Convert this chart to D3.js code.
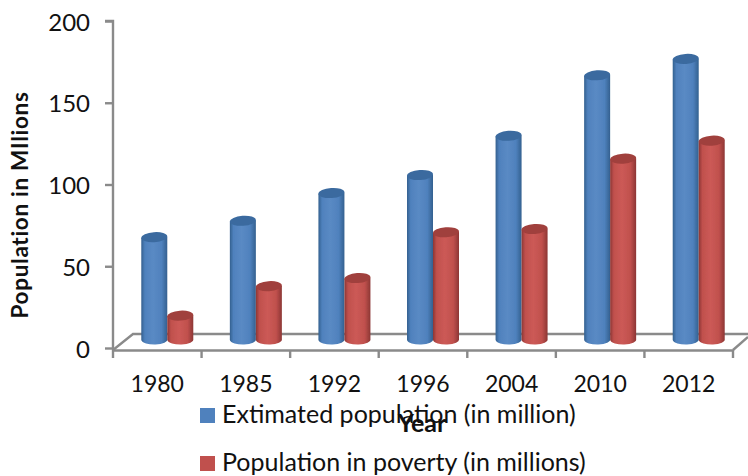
<!DOCTYPE html>
<html><head><meta charset="utf-8">
<script src="https://cdn.jsdelivr.net/npm/d3@7/dist/d3.min.js"></script>
<style>html,body{margin:0;background:#fff}svg{display:block}text{font-family:Lato,"Open Sans",sans-serif;fill:#111}</style>
</head><body><svg id="c" width="748" height="476"></svg>
<script>
const categories=["1980","1985","1992","1996","2004","2010","2012"];
const estimated=[67.5,77.5,94.5,105.5,129.5,166.5,176.5];
const poverty=[19.5,37.5,42.5,70.5,72.5,115.5,126.5];
const yTicks=[0,50,100,150,200];
const seriesNames=["Extimated population (in million)","Population in poverty (in millions)"];
const colors=[
 {id:"gb",dark:"#33608f",mid:"#4f81bd",light:"#5a8ac4",top:"#3a6a9f"},
 {id:"gr",dark:"#8c3634",mid:"#c0504d",light:"#cc5a56",top:"#a03f3c"}];
const axisColor="#8a8a8a";
const svg=d3.select("#c");
const x=d3.scaleBand().domain(categories).range([113,733]);
const y=d3.scaleLinear().domain([0,200]).range([348,21]);
const defs=svg.append("defs");
colors.forEach(c=>{
  const g=defs.append("linearGradient").attr("id",c.id);
  [[0,c.dark],[.14,c.mid],[.45,c.light],[.78,c.mid],[1,c.dark]].forEach(s=>
    g.append("stop").attr("offset",s[0]).attr("stop-color",s[1]));
});
defs.append("filter").attr("id","soft").append("feGaussianBlur").attr("stdDeviation",.45);

// floor
const floor=svg.append("g").attr("stroke",axisColor).attr("stroke-width",2.4).attr("fill","none");
floor.append("path").attr("d",d3.line()([[113,350],[133,334],[748,334]]));
floor.append("path").attr("d",d3.line()([[733,350],[748,337]]));

// y axis
const ax=svg.append("g").attr("transform","translate(113,0)")
  .call(d3.axisLeft(y).tickValues(yTicks).tickSize(8).tickPadding(15));
ax.selectAll("path,line").attr("stroke",axisColor).attr("stroke-width",2.4);
ax.selectAll("text").attr("font-size",24).attr("font-family","Lato").attr("fill","#111").attr("y",1.5);
ax.select(".domain").attr("d",d3.line()([[0,y(200)],[-8,y(200)],[0,y(200)],[0,350]]));

// x axis
const bx=svg.append("g").attr("transform","translate(0,350)")
  .call(d3.axisBottom(x).tickSize(0).tickPadding(26));
bx.select(".domain").attr("stroke",axisColor).attr("stroke-width",2.4);
bx.selectAll("text").attr("font-size",23).attr("font-family","Lato").attr("fill","#111");
svg.append("g").selectAll("line").data(categories.concat([null])).join("line")
  .attr("x1",(d,i)=>113+i*x.step()).attr("x2",(d,i)=>113+i*x.step())
  .attr("y1",350).attr("y2",358).attr("stroke",axisColor).attr("stroke-width",2.4);

// cylinders
const W=26,RY=5,base=340;
function cyl(g,cx,v,c){
  const t=y(v),l=cx-W/2,r=cx+W/2;
  g.append("path").attr("fill",`url(#${c.id})`)
   .attr("d",`M${l},${t}L${l},${base}A${W/2},${RY} 0 0 0 ${r},${base-1}L${r},${t-1}Z`);
  g.append("ellipse").attr("cx",cx).attr("cy",t-.5).attr("rx",W/2).attr("ry",RY)
   .attr("fill",c.top).attr("transform",`rotate(-4 ${cx} ${t-.5})`);
}
const bars=svg.append("g").attr("filter","url(#soft)");
categories.forEach((cat,i)=>{
  const m=x(cat)+x.step()/2;
  const g=bars.append("g");
  cyl(g,m-3,estimated[i],colors[0]);
  cyl(g,m+23,poverty[i],colors[1]);
});

// titles
svg.append("text").attr("transform","translate(28,205) rotate(-90)").attr("text-anchor","middle")
  .attr("font-size",22.5).attr("letter-spacing",.7).attr("font-weight",700).text("Population in MIlions");
// legend
const lg=svg.append("g");
seriesNames.forEach((n,i)=>{
  const yy=408+i*48;
  lg.append("rect").attr("x",200).attr("y",yy).attr("width",15).attr("height",15).attr("fill",colors[i].mid);
  lg.append("text").attr("x",222).attr("y",yy+15).attr("font-size",25).text(n);
});
svg.append("text").attr("x",422).attr("y",432).attr("text-anchor","middle")
  .attr("font-size",25).attr("font-weight",700).text("Year");
</script></body></html>
